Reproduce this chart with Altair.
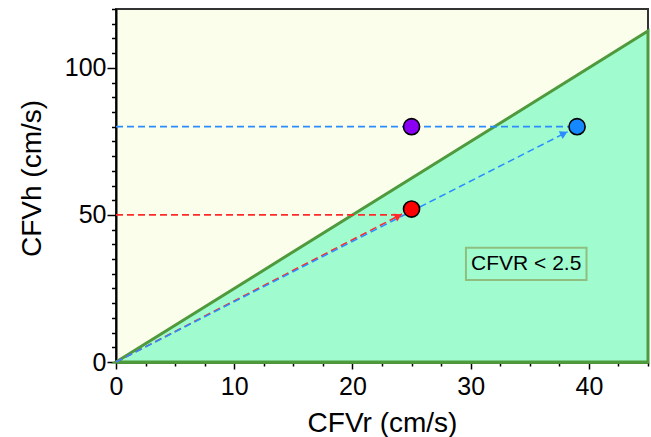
import math
import altair as alt
import pandas as pd

# ---- data ----
x_max = 45
y_max = 120
ratio_r = [0, 45]          # CFVR = 2.5 boundary
ratio_h = [0, 112.5]

pt_r = [25, 25, 39]
pt_h = [80, 52, 80]
pt_color = ["#8A00F5", "#FF0000", "#1587FF"]

seg_r = [0, 0, 0, 0]
seg_h = [80, 50, 0, 0]
seg_r2 = [38.3, 24.0, 24.2, 38.2]
seg_h2 = [80, 50, 50.3, 78.3]
seg_color = ["#2B8CFF", "#FF2A2A", "#FF2A2A", "#2B8CFF"]
seg_arrow = [False, False, True, True]

box_r = [29.6]
box_r2 = [39.8]
box_h = [38.8]
box_h2 = [27.9]
label_r = [34.7]
label_h = [33.2]
label_text = ["CFVR < 2.5"]

x_ticks = [i * 2.5 for i in range(19)]
y_ticks = [float(i * 5) for i in range(25)]

W, H = 532, 353
FONT = "Liberation Sans"

px_x = W / x_max
px_y = H / y_max

ratio_df = pd.DataFrame({"r": ratio_r, "h": ratio_h})
pt_df = pd.DataFrame({"r": pt_r, "h": pt_h, "c": pt_color})
seg_df = pd.DataFrame({"r": seg_r, "h": seg_h, "r2": seg_r2, "h2": seg_h2, "c": seg_color})

heads = []
for r0, h0, r1, h1, c, a in zip(seg_r, seg_h, seg_r2, seg_h2, seg_color, seg_arrow):
    if not a:
        continue
    dx = (r1 - r0) * px_x
    dy = (h1 - h0) * px_y
    L = math.hypot(dx, dy)
    back = 4
    heads.append({
        "r": r1 - (dx / L) * back / px_x,
        "h": h1 - (dy / L) * back / px_y,
        "c": c,
        "ang": math.degrees(math.atan2(dx, dy)),
    })
head_df = pd.DataFrame(heads)
box_df = pd.DataFrame({"r": box_r, "r2": box_r2, "h": box_h, "h2": box_h2})
lab_df = pd.DataFrame({"r": label_r, "h": label_h, "t": label_text})

xs = alt.Scale(domain=[0, x_max], nice=False, zero=True)
ys = alt.Scale(domain=[0, y_max], nice=False, zero=True)

x_major = "datum.value % 10 === 0"
y_major = "datum.value % 50 === 0"

x_axis = alt.Axis(
    values=x_ticks,
    labelOverlap=False,
    labelBound=False,
    labelOpacity={"condition": {"test": x_major, "value": 1}, "value": 0},
    labelFontSize=25,
    tickSize={"condition": {"test": x_major, "value": 7}, "value": 4},
    tickColor="black", tickWidth=1.5,
    labelFont=FONT, labelColor="black", labelPadding=5,
    labelFlush=False,
    domainColor="#4A9238", domainWidth=3,
    grid=False,
    title="CFVr (cm/s)", titleFont=FONT, titleFontSize=28, titleFontWeight="normal",
    titleColor="black", titleBaseline="alphabetic", titleY=69,
)
y_axis = alt.Axis(
    values=y_ticks,
    labelOverlap=False,
    labelBound=False,
    labelOpacity={"condition": {"test": y_major, "value": 1}, "value": 0},
    labelFontSize=25,
    tickSize={"condition": {"test": y_major, "value": 9}, "value": 4.5},
    tickColor="black", tickWidth=1.5,
    labelFont=FONT, labelColor="black", labelPadding=1,
    labelFlush=False,
    domainColor="black", domainWidth=2,
    grid=False,
    title="CFVh (cm/s)", titleFont=FONT, titleFontSize=28, titleFontWeight="normal",
    titleColor="black", titleBaseline="alphabetic", titleX=-76, titleY=169,
)

X = alt.X("r:Q", scale=xs, axis=x_axis)
Y = alt.Y("h:Q", scale=ys, axis=y_axis)

area = alt.Chart(ratio_df).mark_area(
    fill="#A0FCCF", stroke="#4F9A3D", strokeWidth=3, clip=False
).encode(x=X, y=Y)

segs = alt.Chart(seg_df).mark_rule(strokeWidth=1.6, strokeDash=[7, 4]).encode(
    x=X, y=Y, x2="r2:Q", y2="h2:Q",
    color=alt.Color("c:N", scale=None),
)

heads_m = alt.Chart(head_df).mark_point(
    shape="triangle-up", filled=True, size=75, opacity=1
).encode(
    x=X, y=Y,
    color=alt.Color("c:N", scale=None),
    angle=alt.Angle("ang:Q", scale=None),
)

pts = alt.Chart(pt_df).mark_point(
    shape="circle", filled=True, size=260, stroke="black", strokeWidth=1.6, opacity=1
).encode(
    x=X, y=Y,
    fill=alt.Fill("c:N", scale=None),
)

box = alt.Chart(box_df).mark_rect(
    fill="#A0FCCF", stroke="#8FBF80", strokeWidth=2
).encode(x=X, x2="r2:Q", y=Y, y2="h2:Q")

lab = alt.Chart(lab_df).mark_text(
    font=FONT, fontSize=21, color="black", align="center", baseline="middle"
).encode(x=X, y=Y, text="t:N")

chart = alt.layer(area, segs, heads_m, pts, box, lab).properties(
    width=W, height=H,
    autosize=alt.AutoSizeParams(type="none"),
    padding={"left": 116, "top": 9, "right": 3, "bottom": 75},
    background="white",
).configure_view(
    fill="#FCFEEC", stroke="#333333", strokeWidth=2
)

chart.save("out.html", embed_options={"renderer": "svg", "actions": False})
